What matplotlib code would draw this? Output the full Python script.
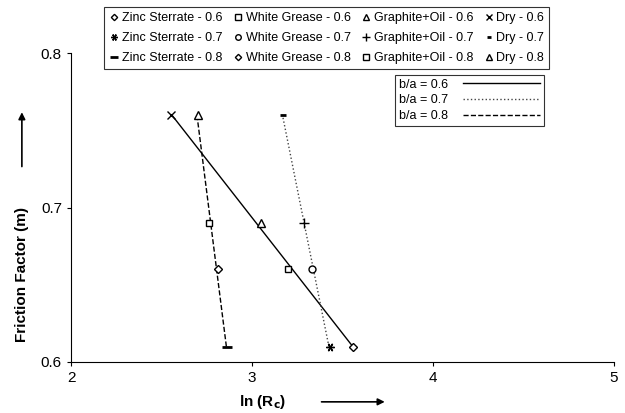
import numpy as np
import matplotlib
matplotlib.use('Agg')
import matplotlib.pyplot as plt

plt.rcParams['font.family'] = ['Liberation Sans', 'DejaVu Sans']

# data
materials = ['Zinc Sterrate', 'White Grease', 'Graphite+Oil', 'Dry']
ba_values = ['0.6', '0.7', '0.8']
friction = [0.61, 0.66, 0.69, 0.76]
lnrc_06 = [3.56, 3.20, 3.05, 2.55]
lnrc_07 = [3.43, 3.33, 3.29, 3.17]
lnrc_08 = [2.86, 2.81, 2.76, 2.70]

markers = {
    '0.6': ['D', 's', '^', 'x'],
    '0.7': [(6, 2, 90), 'o', '+', '_'],
    '0.8': ['_', 'D', 's', '^'],
}
msizes = {
    '0.6': [4, 5, 6, 6],
    '0.7': [6, 5, 7, 4],
    '0.8': [7, 4, 5, 6],
}
line_styles = {'0.6': '-', '0.7': ':', '0.8': '--'}
line_colors = {'0.6': 'black', '0.7': '#444444', '0.8': 'black'}
series = {'0.6': lnrc_06, '0.7': lnrc_07, '0.8': lnrc_08}

fig = plt.figure(figsize=(6.25, 4.13), dpi=100)
ax = fig.add_axes([0.1136, 0.1235, 0.8688, 0.748])

marker_handles = {}
line_handles = []
for b in ba_values:
    xs = np.array(series[b])
    ys = np.array(friction)
    # trend line (x as a linear function of y)
    k, c = np.polyfit(ys, xs, 1)
    yy = np.array([ys.min(), ys.max()])
    ln, = ax.plot(k * yy + c, yy, linestyle=line_styles[b], color=line_colors[b],
                  linewidth=1.0, label='b/a = ' + b)
    line_handles.append(ln)
    for i, m in enumerate(materials):
        mk = markers[b][i]
        h = ax.plot(xs[i], ys[i], linestyle='none', marker=mk, markersize=msizes[b][i],
                    markerfacecolor='white', markeredgecolor='black',
                    markeredgewidth=1.0 if mk != '_' else 2.0, zorder=3)[0]
        marker_handles[(m, b)] = h

ax.set_xlim(2, 5)
ax.set_ylim(0.6, 0.8)
ax.set_xticks([2, 3, 4, 5])
ax.set_yticks([0.6, 0.7, 0.8])
ax.set_yticklabels(['0.6', '0.7', '0.8'])
ax.spines['top'].set_visible(False)
ax.spines['right'].set_visible(False)
ax.tick_params(direction='out', length=3, labelsize=11)

# top legend: order column-wise so rows read by b/a
handles = []
labels = []
for m in materials:
    for b in ba_values:
        handles.append(marker_handles[(m, b)])
        labels.append(m + ' - ' + b)
leg1 = fig.legend(handles, labels, ncol=4, loc='upper left',
                  bbox_to_anchor=(0.157, 0.997), fontsize=9, frameon=True,
                  fancybox=False, edgecolor='black', handlelength=0.8,
                  handletextpad=0.2, columnspacing=0.85, labelspacing=0.62,
                  borderpad=0.4, markerscale=0.8)
leg1.get_frame().set_linewidth(0.8)

leg2 = ax.legend(line_handles, [h.get_label() for h in line_handles],
                 loc='upper left', bbox_to_anchor=(0.585, 0.95),
                 fontsize=9, frameon=True, fancybox=False, edgecolor='black',
                 handlelength=6.2, labelspacing=0.3, borderpad=0.3,
                 markerfirst=False, handletextpad=1.2)
leg2.get_frame().set_linewidth(0.8)

# axis titles with arrows
fig.text(0.035, 0.335, 'Friction Factor (m)', rotation=90, ha='center', va='center',
         fontsize=11, fontweight='bold')
ax.annotate('', xy=(0.035, 0.735), xytext=(0.035, 0.59), xycoords='figure fraction',
            textcoords='figure fraction', annotation_clip=False,
            arrowprops=dict(arrowstyle='-|>', color='black', lw=1.2))
fig.text(0.42, 0.027, r'ln (R$_\mathbf{c}$)', ha='center', va='center',
         fontsize=11, fontweight='bold')
ax.annotate('', xy=(0.62, 0.027), xytext=(0.51, 0.027), xycoords='figure fraction',
            textcoords='figure fraction', annotation_clip=False,
            arrowprops=dict(arrowstyle='-|>', color='black', lw=1.2))

fig.savefig('out.png', dpi=100)
